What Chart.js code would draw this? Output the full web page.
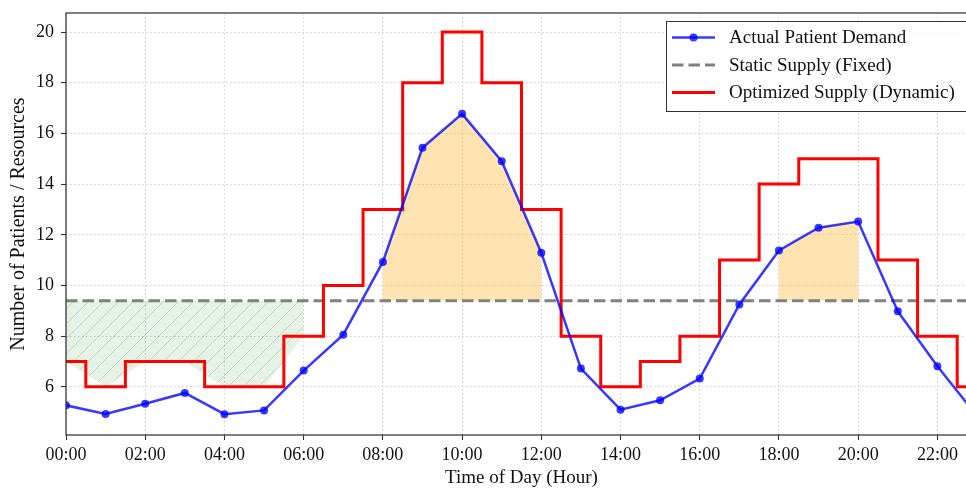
<!DOCTYPE html>
<html>
<head>
<meta charset="utf-8">
<title>Patient Demand vs Supply</title>
<script src="https://cdn.jsdelivr.net/npm/chart.js@4.4.1/dist/chart.umd.min.js"></script>
<style>
    html, body { margin: 0; padding: 0; overflow: hidden; background: #fff; }
    #wrap { width: 1000px; height: 488px; }
</style>
</head>
<body>
<div id="wrap"><canvas id="supplyChart" width="1000" height="488"></canvas></div>
<script>
// Data
const hours = [0, 1, 2, 3, 4, 5, 6, 7, 8, 9, 10, 11, 12, 13, 14, 15, 16, 17, 18, 19, 20, 21, 22, 23];
const demand = [5.27, 4.93, 5.33, 5.76, 4.92, 5.07, 6.64, 8.06, 10.93, 15.43, 16.77, 14.9, 11.29, 6.72,
                5.1, 5.47, 6.33, 9.25, 11.38, 12.28, 12.52, 8.98, 6.81, 4.85];
const supply = [7, 6, 7, 7, 6, 6, 8, 10, 13, 18, 20, 18, 13, 8, 6, 7, 8, 11, 14, 15, 15, 11, 8, 6];
const staticSupply = 9.4;
const nightWindow = [0, 6];
const peakWindows = [[8, 12], [18, 20]];
const xTickLabels = ['00:00', '02:00', '04:00', '06:00', '08:00', '10:00', '12:00', '14:00', '16:00', '18:00', '20:00', '22:00'];
const yTickValues = [6, 8, 10, 12, 14, 16, 18, 20];
const legendLabels = ['Actual Patient Demand', 'Static Supply (Fixed)', 'Optimized Supply (Dynamic)'];

const FONT = "'Liberation Serif', 'DejaVu Serif', serif";
Chart.defaults.font.family = FONT;
Chart.defaults.color = '#111';

const xTickValues = xTickLabels.map(l => parseInt(l, 10));

function points(ys, from, to) {
    const out = [];
    hours.forEach((h, i) => {
        if (h >= from && h <= to) out.push({ x: h, y: ys[i] });
    });
    return out;
}

// hatch pattern like matplotlib's '/'
function makeHatch() {
    const s = 15;
    const c = document.createElement('canvas');
    c.width = s; c.height = s;
    const g = c.getContext('2d');
    g.fillStyle = 'rgba(0,128,0,0.1)';
    g.fillRect(0, 0, s, s);
    g.strokeStyle = 'rgba(0,128,0,0.2)';
    g.lineWidth = 1;
    g.beginPath();
    g.moveTo(-1, s + 1); g.lineTo(s + 1, -1);
    g.moveTo(-1, 1); g.lineTo(1, -1);
    g.moveTo(s - 1, s + 1); g.lineTo(s + 1, s - 1);
    g.stroke();
    return g.createPattern(c, 'repeat');
}

const ctx = document.getElementById('supplyChart').getContext('2d');

// datasets listed top-most first (Chart.js draws index 0 last)
const datasets = [
    {
        label: legendLabels[0],
        data: points(demand, 0, 23),
        borderColor: 'rgba(0,0,255,0.78)',
        backgroundColor: 'rgba(0,0,255,0.78)',
        borderWidth: 2.5,
        pointRadius: 4,
        pointBorderWidth: 0,
        tension: 0,
        fill: false
    },
    {
        label: legendLabels[2],
        data: points(supply, 0, 23),
        stepped: 'middle',
        borderColor: '#ff0000',
        borderWidth: 3,
        borderJoinStyle: 'miter',
        pointRadius: 0,
        fill: false
    },
    {
        label: legendLabels[1],
        data: [{ x: 0, y: staticSupply }, { x: 23, y: staticSupply }],
        borderColor: '#808080',
        borderWidth: 3,
        borderDash: [11.5, 5],
        pointRadius: 0,
        fill: false
    }
];

peakWindows.forEach(w => {
    datasets.push({
        label: 'peak',
        data: points(demand, w[0], w[1]),
        borderWidth: 0,
        borderColor: 'rgba(0,0,0,0)',
        backgroundColor: 'rgba(255,165,0,0.3)',
        pointRadius: 0,
        fill: { value: staticSupply }
    });
});

datasets.push({
    label: 'night',
    data: points(supply, nightWindow[0], nightWindow[1]),
    borderWidth: 0,
    borderColor: 'rgba(0,0,0,0)',
    backgroundColor: makeHatch(),
    pointRadius: 0,
    fill: { value: staticSupply }
});

// frame + legend box drawn like matplotlib
const framePlugin = {
    id: 'frame',
    afterDatasetsDraw(chart) {
        const { ctx, chartArea: a } = chart;
        ctx.save();
        ctx.strokeStyle = '#333';
        ctx.lineWidth = 1.25;
        ctx.strokeRect(a.left, a.top, a.right - a.left, a.bottom - a.top);
        ctx.restore();
    }
};

const legendPlugin = {
    id: 'boxLegend',
    afterDraw(chart) {
        const { ctx, chartArea: a } = chart;
        const right = a.right - 8;
        const left = 666.5;
        const top = a.top + 8.5;
        const rows = [top + 16, top + 43.5, top + 71];
        ctx.save();
        ctx.fillStyle = 'rgba(255,255,255,0.85)';
        ctx.fillRect(left, top, right - left, 90);
        ctx.strokeStyle = '#333';
        ctx.lineWidth = 1;
        ctx.strokeRect(left, top, right - left, 90);

        const hx0 = 672, hx1 = 715;
        const styles = [datasets[0], datasets[2], datasets[1]];
        styles.forEach((ds, i) => {
            ctx.beginPath();
            ctx.strokeStyle = ds.borderColor;
            ctx.lineWidth = ds.borderWidth;
            ctx.setLineDash(ds.borderDash || []);
            ctx.moveTo(hx0, rows[i]);
            ctx.lineTo(hx1, rows[i]);
            ctx.stroke();
            ctx.setLineDash([]);
            if (ds.pointRadius) {
                ctx.beginPath();
                ctx.fillStyle = ds.backgroundColor;
                ctx.arc((hx0 + hx1) / 2, rows[i], ds.pointRadius, 0, Math.PI * 2);
                ctx.fill();
            }
            ctx.fillStyle = '#111';
            ctx.font = '19px ' + FONT;
            ctx.textBaseline = 'middle';
            ctx.textAlign = 'left';
            ctx.fillText(legendLabels[i], 729, rows[i] + 1);
        });
        ctx.restore();
    }
};

new Chart(ctx, {
    type: 'line',
    data: { datasets: datasets },
    options: {
        responsive: false,
        animation: false,
        events: [],
        layout: { padding: { left: 0, right: 23, top: 13, bottom: 0 } },
        plugins: {
            legend: { display: false },
            tooltip: { enabled: false }
        },
        scales: {
            x: {
                type: 'linear',
                min: 0,
                max: 23,
                afterFit: s => { s.height = 53; s.paddingLeft = 0; s.paddingRight = 0; },
                afterBuildTicks: s => { s.ticks = xTickValues.map(v => ({ value: v })); },
                ticks: {
                    autoSkip: false,
                    maxRotation: 0,
                    padding: 4.5,
                    font: { size: 18 },
                    color: '#111',
                    callback: (v) => xTickLabels[xTickValues.indexOf(v)]
                },
                grid: {
                    color: 'rgba(190,190,190,0.75)',
                    lineWidth: 1,
                    tickColor: '#333',
                    tickLength: 5,
                    tickWidth: 1.1,
                    tickBorderDash: []
                },
                border: { display: false, dash: [1.5, 2.5] },
                title: {
                    display: true,
                    text: 'Time of Day (Hour)',
                    font: { size: 19, lineHeight: 1.0 },
                    color: '#111',
                    padding: { top: 0, bottom: 0 }
                }
            },
            y: {
                type: 'linear',
                min: 4.1,
                max: 20.75,
                afterFit: s => { s.width = 66; s.paddingTop = 0; s.paddingBottom = 0; },
                afterBuildTicks: s => { s.ticks = yTickValues.map(v => ({ value: v })); },
                ticks: {
                    padding: 7,
                    font: { size: 18 },
                    color: '#111'
                },
                grid: {
                    color: 'rgba(190,190,190,0.75)',
                    lineWidth: 1,
                    tickColor: '#333',
                    tickLength: 5,
                    tickWidth: 1.1,
                    tickBorderDash: []
                },
                border: { display: false, dash: [1.5, 2.5] },
                title: {
                    display: true,
                    text: 'Number of Patients / Resources',
                    font: { size: 20, lineHeight: 1.2 },
                    color: '#111',
                    padding: { top: 7, bottom: 0 }
                }
            }
        }
    },
    plugins: [framePlugin, legendPlugin]
});
</script>
</body>
</html>
